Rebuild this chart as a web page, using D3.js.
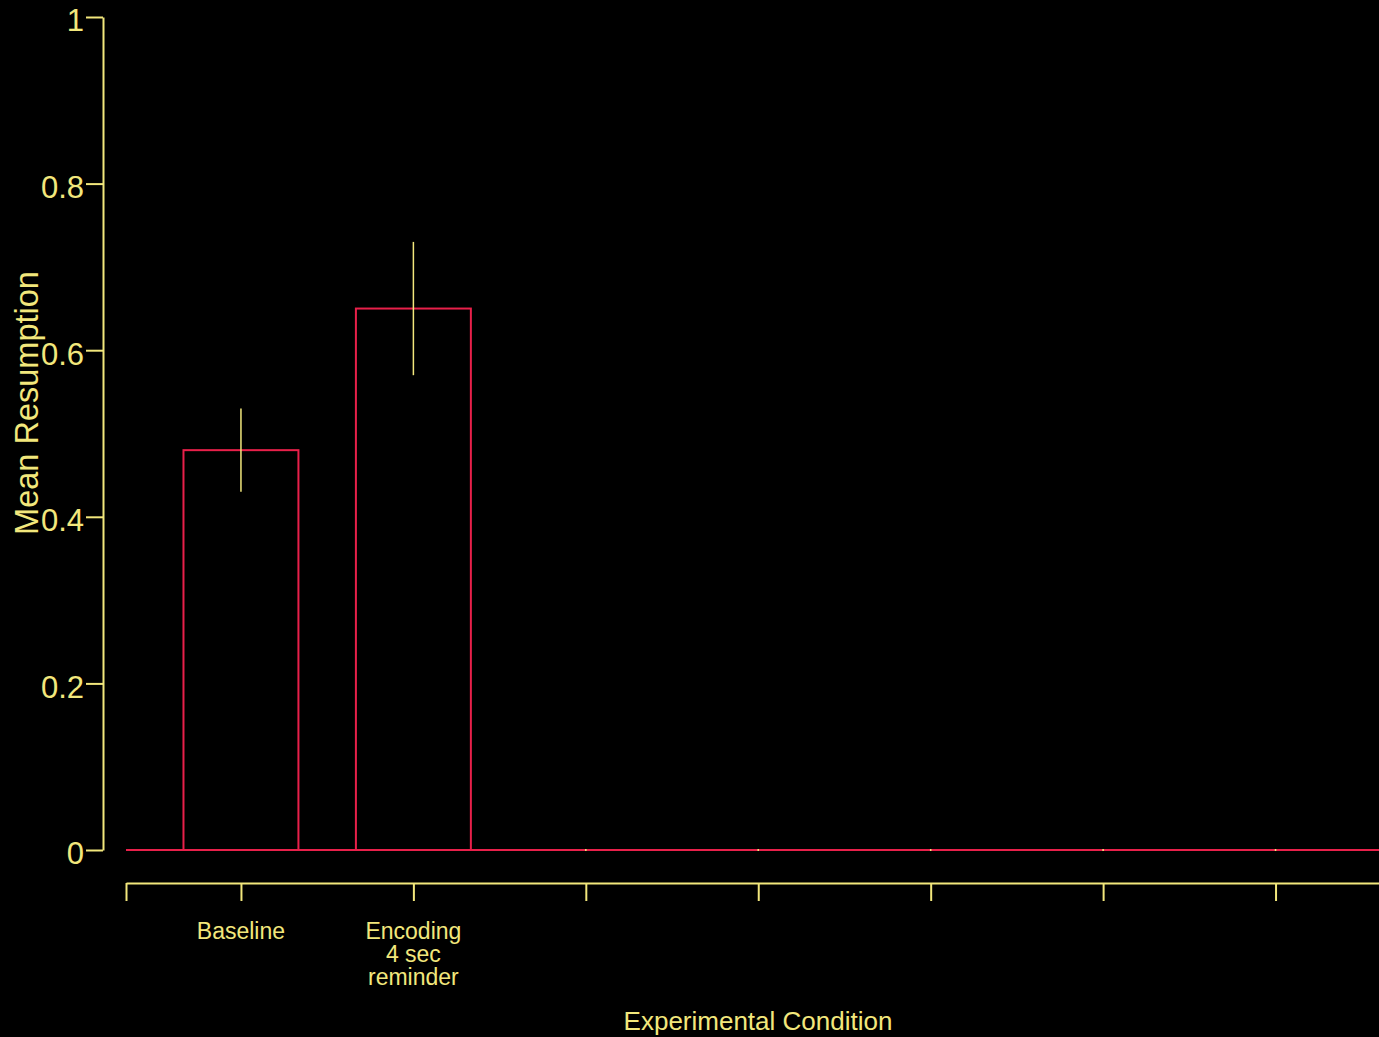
<!DOCTYPE html>
<html><head><meta charset="utf-8">
<script src="https://cdn.jsdelivr.net/npm/d3@7"></script>
<style>html,body{margin:0;padding:0;background:#000;}svg{display:block;}</style>
</head><body>
<svg id="chart" width="1379" height="1037"></svg>
<script>
const categories = [["Baseline"], ["Encoding", "4 sec", "reminder"], [""], [""], [""], [""], [""]];
const means = [0.48, 0.65, 0, 0, 0, 0, 0];
const errors = [0.05, 0.08, 0, 0, 0, 0, 0];
const yTicks = [0, 0.2, 0.4, 0.6, 0.8, 1];
const yTickLabels = ["0", "0.2", "0.4", "0.6", "0.8", "1"];

const YEL = "#f2e77c", RED = "#e8204a";
const FONT = "'Liberation Sans', Arial, sans-serif";
const svg = d3.select("#chart");
svg.append("rect").attr("width", 1379).attr("height", 1037).attr("fill", "#000");

const x = d3.scaleLinear().domain([1/3, 7.6]).range([126, 1379]);
const y = d3.scaleLinear().domain([0, 1]).range([850, 17]);
const barW = x(1 + 2/3) - x(1);

// y axis
const yAxis = svg.append("g").attr("transform", "translate(103,0)")
  .call(d3.axisLeft(y).tickValues(yTicks).tickFormat((d, i) => yTickLabels[i]).tickSize(17).tickSizeOuter(0).tickPadding(2));
yAxis.select(".domain").attr("stroke", YEL).attr("stroke-width", 2);
yAxis.selectAll(".tick line").attr("stroke", YEL).attr("stroke-width", 2);
yAxis.selectAll(".tick text").attr("fill", YEL).style("font-family", FONT).style("font-size", "31px").attr("dy", "0.45em");

// x axis
const xAxis = svg.append("g").attr("transform", "translate(0,883)")
  .call(d3.axisBottom(x).tickValues([1/3, 1, 2, 3, 4, 5, 6, 7]).tickFormat("").tickSize(18).tickSizeOuter(0));
xAxis.select(".domain").attr("stroke", YEL).attr("stroke-width", 2);
xAxis.selectAll(".tick line").attr("stroke", YEL).attr("stroke-width", 2);

// category labels
categories.forEach((lines, i) => {
  const t = svg.append("text").attr("x", x(i + 1)).attr("y", 939).attr("text-anchor", "middle")
    .attr("fill", YEL).style("font-family", FONT).style("font-size", "23px");
  lines.forEach((l, j) => t.append("tspan").attr("x", x(i + 1)).attr("dy", j === 0 ? 0 : 23).text(l));
});

// baseline
svg.append("line").attr("x1", x(1/3)).attr("x2", 1379).attr("y1", y(0)).attr("y2", y(0))
  .attr("stroke", RED).attr("stroke-width", 2);

// bars
svg.selectAll("rect.bar").data(means).join("rect").attr("class", "bar")
  .attr("x", (d, i) => x(i + 1) - barW / 2).attr("width", barW)
  .attr("y", d => y(d)).attr("height", d => y(0) - y(d))
  .attr("fill", "none").attr("stroke", RED).attr("stroke-width", 2);

// error bars
svg.selectAll("line.err").data(means).join("line").attr("class", "err")
  .attr("x1", (d, i) => x(i + 1)).attr("x2", (d, i) => x(i + 1))
  .attr("y1", (d, i) => errors[i] ? y(d + errors[i]) : y(0) - 1)
  .attr("y2", (d, i) => errors[i] ? y(d - errors[i]) : y(0) + 1)
  .attr("stroke", YEL).attr("stroke-width", 1.5);

// axis titles
svg.append("text").attr("transform", "translate(38,403) rotate(-90)").attr("text-anchor", "middle")
  .attr("fill", YEL).style("font-family", FONT).style("font-size", "32.5px").text("Mean Resumption");
svg.append("text").attr("x", 758).attr("y", 1030).attr("text-anchor", "middle")
  .attr("fill", YEL).style("font-family", FONT).style("font-size", "26px").text("Experimental Condition");
</script>
</body></html>
